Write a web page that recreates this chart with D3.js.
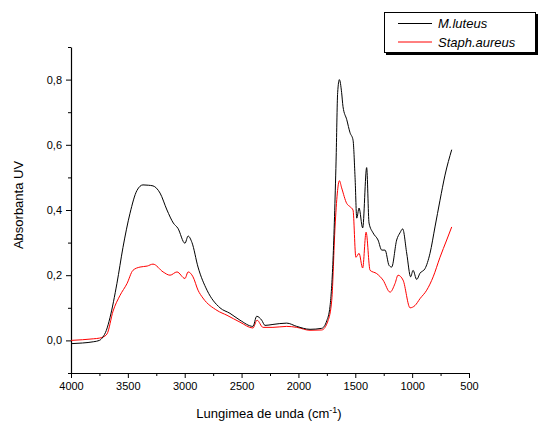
<!DOCTYPE html>
<html lang="en">
<head>
<meta charset="utf-8">
<title>Absorbanta UV</title>
<script src="https://d3js.org/d3.v7.min.js"></script>
<style>
 body { margin: 0; background: #fff; }
 text { font-family: "Liberation Sans", Arial, sans-serif; }
</style>
</head>
<body>
<script>
 // wavenumbers (cm-1) and absorbance
 var wnLuteus = [4000, 3900, 3800, 3750, 3720, 3690, 3657, 3596, 3543, 3481, 3420, 3367, 3320, 3279, 3217, 3156, 3100, 3060, 2998, 2970, 2936, 2883, 2804, 2690, 2602, 2514, 2400, 2367, 2323, 2294, 2224, 2103, 2015, 1898, 1795, 1751, 1722, 1696, 1669, 1655, 1640, 1620, 1608, 1575, 1546, 1520, 1502, 1487, 1467, 1435, 1400, 1379, 1344, 1300, 1267, 1238, 1203, 1180, 1136, 1107, 1083, 1048, 1013, 992, 960, 931, 887, 843, 799, 755, 711, 652];
 var absLuteus = [-0.010, -0.008, -0.004, 0.000, 0.010, 0.030, 0.070, 0.175, 0.285, 0.390, 0.460, 0.477, 0.476, 0.474, 0.452, 0.400, 0.360, 0.344, 0.298, 0.320, 0.300, 0.225, 0.154, 0.100, 0.083, 0.062, 0.043, 0.074, 0.062, 0.046, 0.049, 0.053, 0.043, 0.034, 0.037, 0.060, 0.105, 0.246, 0.550, 0.760, 0.800, 0.760, 0.717, 0.677, 0.637, 0.615, 0.500, 0.375, 0.406, 0.345, 0.530, 0.360, 0.330, 0.308, 0.277, 0.277, 0.230, 0.225, 0.308, 0.330, 0.342, 0.268, 0.195, 0.215, 0.187, 0.206, 0.220, 0.267, 0.348, 0.430, 0.507, 0.585];

 var wnAureus = [4000, 3900, 3800, 3750, 3720, 3683, 3630, 3569, 3508, 3455, 3393, 3330, 3279, 3190, 3129, 3068, 2998, 2970, 2927, 2883, 2840, 2716, 2628, 2514, 2400, 2364, 2311, 2224, 2103, 2015, 1898, 1795, 1740, 1707, 1678, 1658, 1640, 1620, 1575, 1546, 1520, 1495, 1467, 1435, 1405, 1370, 1312, 1256, 1194, 1150, 1124, 1080, 1018, 975, 931, 872, 815, 755, 696, 652];
 var absAureus = [0.000, 0.002, 0.005, 0.007, 0.010, 0.020, 0.090, 0.138, 0.174, 0.215, 0.225, 0.228, 0.234, 0.210, 0.200, 0.210, 0.190, 0.210, 0.195, 0.154, 0.130, 0.092, 0.077, 0.056, 0.038, 0.062, 0.040, 0.040, 0.043, 0.040, 0.031, 0.032, 0.060, 0.123, 0.348, 0.452, 0.490, 0.468, 0.420, 0.410, 0.400, 0.255, 0.267, 0.222, 0.332, 0.215, 0.205, 0.185, 0.148, 0.175, 0.200, 0.185, 0.100, 0.107, 0.128, 0.154, 0.195, 0.255, 0.308, 0.348];

 var seriesNames = ["M.luteus", "Staph.aureus"];
 var seriesColors = ["#000000", "#ff0000"];
 var xTicks = [4000, 3500, 3000, 2500, 2000, 1500, 1000, 500];
 var yTicks = [0.0, 0.2, 0.4, 0.6, 0.8];

 var width = 540, height = 423;
 var margin = {top: 47, right: 71, bottom: 50, left: 71};

 var svg = d3.select("body").append("svg")
     .attr("width", width)
     .attr("height", height);

 var xScale = d3.scaleLinear()
     .domain([4000, 500])
     .range([margin.left, width - margin.right]);

 var yScale = d3.scaleLinear()
     .domain([-0.1, 0.9])
     .range([height - margin.bottom, margin.top]);

 var fmt = function (d) { return d3.format(".1f")(d).replace(".", ","); };

 //minor ticks first
 svg.append("g")
     .attr("transform", "translate(0," + (height - margin.bottom) + ")")
     .call(d3.axisBottom(xScale).tickValues(d3.range(3750, 500, -500)).tickSize(3).tickFormat(""))
     .call(function (g) { g.select(".domain").remove(); });

 svg.append("g")
     .attr("transform", "translate(" + margin.left + ",0)")
     .call(d3.axisLeft(yScale).tickValues([-0.1, 0.1, 0.3, 0.5, 0.7, 0.9]).tickSize(3).tickFormat(""))
     .call(function (g) { g.select(".domain").remove(); });

 var xAxis = svg.append("g")
     .attr("transform", "translate(0," + (height - margin.bottom) + ")")
     .call(d3.axisBottom(xScale).tickValues(xTicks).tickFormat(d3.format("d")).tickSize(5).tickSizeOuter(0).tickPadding(4));
 xAxis.selectAll("text").style("font-size", "11px").attr("fill", "#000");

 var yAxis = svg.append("g")
     .attr("transform", "translate(" + margin.left + ",0)")
     .call(d3.axisLeft(yScale).tickValues(yTicks).tickFormat(fmt).tickSize(5).tickSizeOuter(0).tickPadding(4));
 yAxis.selectAll("text").style("font-size", "11px").attr("fill", "#000");

 svg.selectAll(".domain").attr("stroke", "#000").attr("stroke-width", 1.2);

 var line = d3.line()
     .x(function (d) { return xScale(d[0]); })
     .y(function (d) { return yScale(d[1]); })
     .curve(d3.curveMonotoneX);

 var series = [d3.zip(wnLuteus, absLuteus), d3.zip(wnAureus, absAureus)];

 //red under black, like the original
 [1, 0].forEach(function (i) {
     svg.append("path")
	 .datum(series[i])
	 .attr("fill", "none")
	 .attr("stroke", seriesColors[i])
	 .attr("stroke-width", 1)
	 .attr("d", line);
 });

 //axis titles
 svg.append("text")
     .attr("transform", "translate(23,205) rotate(-90)")
     .attr("text-anchor", "middle")
     .style("font-size", "13px")
     .text("Absorbanta UV");

 var xt = svg.append("text")
     .attr("x", 269)
     .attr("y", 418)
     .attr("text-anchor", "middle")
     .style("font-size", "13px");
 xt.append("tspan").text("Lungimea de unda (cm");
 xt.append("tspan").attr("dy", -5).style("font-size", "9px").text("-1");
 xt.append("tspan").attr("dy", 5).text(")");

 //legend
 var leg = svg.append("g");
 leg.append("rect")
     .attr("x", 386).attr("y", 14)
     .attr("width", 152).attr("height", 41)
     .attr("fill", "#000");
 leg.append("rect")
     .attr("x", 384.5).attr("y", 12.5)
     .attr("width", 151).attr("height", 40)
     .attr("fill", "#fff")
     .attr("stroke", "#000")
     .attr("stroke-width", 1);

 seriesNames.forEach(function (name, i) {
     var yy = 23.5 + i * 18.5;
     leg.append("line")
	 .attr("x1", 398).attr("x2", 432)
	 .attr("y1", yy).attr("y2", yy)
	 .attr("stroke", seriesColors[i])
	 .attr("stroke-width", 1);
     leg.append("text")
	 .attr("x", 438).attr("y", yy + 4.5)
	 .style("font-size", "13px")
	 .style("font-style", "italic")
	 .text(name);
 });
</script>
</body>
</html>
